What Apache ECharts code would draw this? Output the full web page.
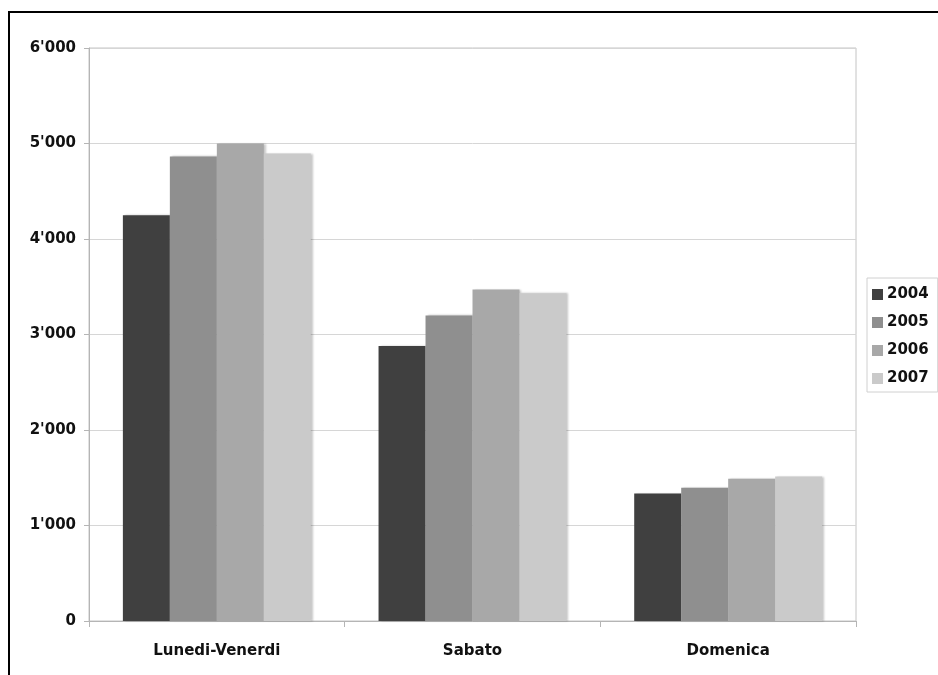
<!DOCTYPE html>
<html>
<head>
<meta charset="utf-8">
<script src="https://cdn.jsdelivr.net/npm/echarts@6/dist/echarts.min.js"></script>
<style>
  html, body { margin: 0; padding: 0; background: #fff; }
  #chart { width: 938px; height: 675px; }
</style>
</head>
<body>
<div id="chart"></div>
<script>
// Day-type categories and yearly series
const categories = ['Lunedi-Venerdi', 'Sabato', 'Domenica'];
const years = ['2004', '2005', '2006', '2007'];
const values2004 = [4250, 2880, 1335];
const values2005 = [4865, 3200, 1395];
const values2006 = [5000, 3470, 1490];
const values2007 = [4895, 3432, 1512];
const yTicks = [0, 1000, 2000, 3000, 4000, 5000, 6000];

const seriesValues = [values2004, values2005, values2006, values2007];
const colors = ['#404040', '#8f8f8f', '#a8a8a8', '#cacaca'];
const font = 'DejaVu Sans';

// 6'000 style thousands separator
function fmt(v) {
  return String(v).replace(/\B(?=(\d{3})+(?!\d))/g, "'");
}

const chart = echarts.init(document.getElementById('chart'), null, { renderer: 'canvas' });

chart.setOption({
  backgroundColor: '#ffffff',
  animation: false,
  color: colors,
  graphic: [{
    type: 'rect',
    shape: { x: 9, y: 12, width: 1000, height: 1000 },
    style: { fill: 'none', stroke: '#000', lineWidth: 2 },
    silent: true
  }],
  grid: {
    left: 89, right: 82, top: 48, bottom: 54,
    show: true, borderColor: '#c4c4c4', borderWidth: 1, backgroundColor: 'transparent'
  },
  legend: {
    orient: 'vertical',
    left: 867, top: 278,
    icon: 'rect',
    itemWidth: 11, itemHeight: 11,
    itemGap: 13,
    padding: [9, 9, 6, 5],
    borderColor: '#d0d0d0', borderWidth: 1,
    data: years,
    textStyle: { fontFamily: font, fontWeight: 'bold', fontSize: 15, color: '#111', lineHeight: 15, padding: [0, 0, 0, -1] }
  },
  xAxis: {
    type: 'category',
    data: categories,
    axisLine: { lineStyle: { color: '#b5b5b5', width: 1 } },
    axisTick: { show: true, length: 6, lineStyle: { color: '#b5b5b5' } },
    axisLabel: { fontFamily: font, fontWeight: 'bold', fontSize: 15, color: '#111', margin: 23 },
    splitLine: { show: false }
  },
  yAxis: {
    type: 'value',
    min: yTicks[0], max: yTicks[yTicks.length - 1], interval: 1000,
    axisLine: { show: true, lineStyle: { color: '#b5b5b5', width: 1 } },
    axisTick: { show: true, length: 5, lineStyle: { color: '#b5b5b5' } },
    axisLabel: { fontFamily: font, fontWeight: 'bold', fontSize: 15, color: '#111', margin: 13, formatter: fmt },
    splitLine: { lineStyle: { color: '#d6d6d6', width: 1 } }
  },
  series: years.map((y, i) => ({
    name: y,
    type: 'bar',
    data: seriesValues[i],
    barGap: '0%',
    barCategoryGap: '26.5%',
    itemStyle: {
      color: colors[i],
      shadowColor: 'rgba(0,0,0,0.22)',
      shadowOffsetX: 2,
      shadowBlur: 2
    }
  }))
});
</script>
</body>
</html>
